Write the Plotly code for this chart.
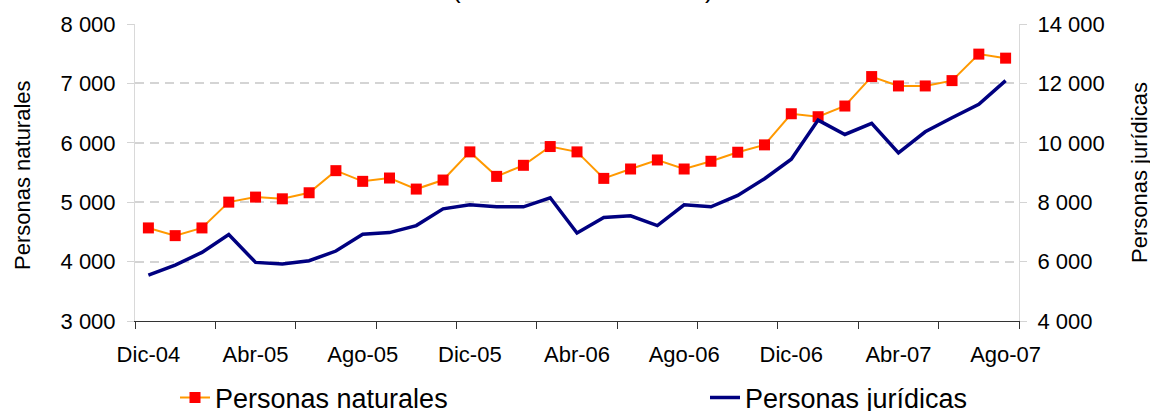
import plotly.graph_objects as go

months = ["Dic-04", "Ene-05", "Feb-05", "Mar-05", "Abr-05", "May-05", "Jun-05", "Jul-05",
          "Ago-05", "Set-05", "Oct-05", "Nov-05", "Dic-05", "Ene-06", "Feb-06", "Mar-06",
          "Abr-06", "May-06", "Jun-06", "Jul-06", "Ago-06", "Set-06", "Oct-06", "Nov-06",
          "Dic-06", "Ene-07", "Feb-07", "Mar-07", "Abr-07", "May-07", "Jun-07", "Jul-07",
          "Ago-07"]

naturales = [4567, 4437, 4567, 5001, 5086, 5057, 5159, 5531, 5351, 5407, 5221, 5373,
             5847, 5435, 5621, 5937, 5847, 5401, 5559, 5711, 5559, 5689, 5841, 5965,
             6489, 6439, 6619, 7115, 6957, 6957, 7047, 7493, 7425]

juridicas = [5545, 5883, 6311, 6909, 5973, 5917, 6029, 6356, 6920, 6976, 7213, 7777,
             7912, 7844, 7844, 8149, 6965, 7484, 7540, 7213, 7912, 7844, 8228, 8791,
             9445, 10764, 10280, 10652, 9660, 10370, 10843, 11294, 12095]

label_idx = list(range(0, len(months), 4))
label_text = [months[i] for i in label_idx]

FONT = "Liberation Sans, Arial, sans-serif"
x = list(range(len(months)))

# Body margin is removed in the page, so figure coords = screen coords
W, H = 1150, 411
PL, PR, PT, PB = 135, 1019, 24, 321

def px_x(screen):
    return (screen - PL) / (PR - PL)

def px_y(screen):
    return (PB - screen) / (PB - PT)

fig = go.Figure()
fig.add_trace(go.Scatter(
    x=x, y=naturales, name="Personas naturales", mode="lines+markers",
    line=dict(color="#FF9900", width=2),
    marker=dict(symbol="square", size=11, color="#FF0000", line=dict(width=0)),
    yaxis="y", legend="legend"))
fig.add_trace(go.Scatter(
    x=x, y=juridicas, name="Personas jurídicas", mode="lines",
    line=dict(color="#000080", width=3.5),
    yaxis="y2", legend="legend2"))

grid = dict(showgrid=True, gridcolor="#d4d4d4", gridwidth=1.5, griddash="9px,6px")

leg_common = dict(orientation="h", xref="paper", yref="paper", xanchor="left",
                  yanchor="middle", font=dict(size=27),
                  bgcolor="rgba(0,0,0,0)", borderwidth=0)

fig.update_layout(
    width=W, height=H,
    margin=dict(l=PL, r=W - PR, t=PT, b=H - PB, autoexpand=False),
    paper_bgcolor="white", plot_bgcolor="white",
    separators=", ",
    font=dict(family=FONT, size=22, color="#000000"),
    xaxis=dict(
        range=[-0.5, len(months) - 0.5],
        tickmode="array", tickvals=label_idx, ticktext=label_text,
        ticks="", showgrid=False, zeroline=False, automargin=False,
        showline=True, linecolor="#333333", linewidth=1,
        tickfont=dict(size=22),
        minor=dict(tickmode="linear", tick0=-0.5, dtick=3, ticks="outside",
                   ticklen=7, tickcolor="#333333", tickwidth=1, showgrid=False),
        ticklabelstandoff=14,
    ),
    yaxis=dict(
        range=[3000, 8000], tickmode="linear", tick0=3000, dtick=1000,
        tickformat=",d", ticks="outside", ticklen=7, tickcolor="#d4d4d4",
        showline=True, linecolor="#d9d9d9", linewidth=1, zeroline=False,
        ticklabelstandoff=7, automargin=False,
        **grid,
    ),
    yaxis2=dict(
        range=[4000, 14000], tickmode="linear", tick0=4000, dtick=2000,
        tickformat=",d", ticks="outside", ticklen=7, tickcolor="#d4d4d4",
        overlaying="y", side="right", showgrid=False, zeroline=False,
        showline=True, linecolor="#d9d9d9", linewidth=1,
        ticklabelstandoff=6, automargin=False,
    ),
    showlegend=True,
    legend=dict(x=px_x(175), y=px_y(398), **leg_common),
    legend2=dict(x=px_x(705), y=px_y(398), **leg_common),
    annotations=[
        dict(text="(Número de deudores)", xref="paper", yref="paper",
             x=px_x(583), y=px_y(-11), xanchor="center", yanchor="middle",
             showarrow=False, font=dict(size=26)),
        dict(text="Personas naturales", xref="paper", yref="paper",
             x=px_x(22), y=px_y(175), xanchor="center", yanchor="middle",
             textangle=-90, showarrow=False, font=dict(size=22)),
        dict(text="Personas jurídicas", xref="paper", yref="paper",
             x=px_x(1139), y=px_y(173), xanchor="center", yanchor="middle",
             textangle=-90, showarrow=False, font=dict(size=22)),
    ],
)

fig.write_html(
    "out.html",
    config={"displayModeBar": False},
    post_script="document.body.style.margin='0';document.body.style.overflow='hidden';",
)
